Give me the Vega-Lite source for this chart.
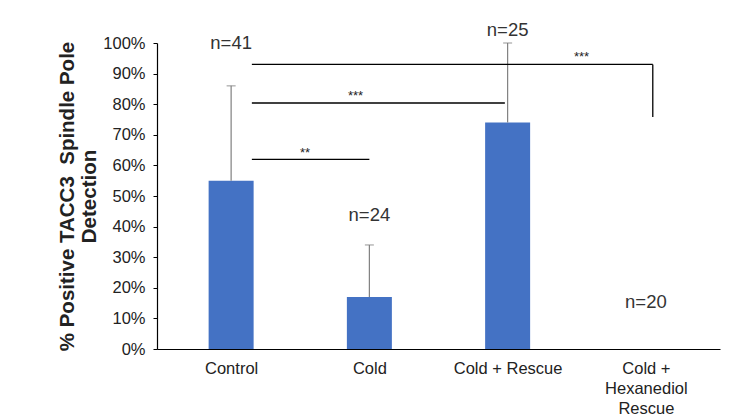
{
  "$schema": "https://vega.github.io/schema/vega-lite/v6.json",
  "autosize": "none",
  "width": 563,
  "height": 306,
  "padding": {"left": 157, "top": 43, "right": 30, "bottom": 71},
  "background": "white",
  "config": {
    "view": {"stroke": null},
    "font": "Liberation Sans",
    "axis": {
      "grid": false,
      "labelOverlap": false,
      "domainColor": "#000000",
      "domainWidth": 1.2,
      "tickColor": "#000000",
      "labelFont": "Liberation Sans",
      "labelColor": "#222222"
    },
    "axisX": {"labelFontSize": 16.5, "labelLineHeight": 20},
    "axisY": {"labelFontSize": 16.5, "titleFont": "Liberation Sans", "titleFontSize": 20.5, "titleFontWeight": "bold", "titleColor": "#222222", "titleLineHeight": 22, "titlePadding": 3}
  },
  "datasets": {
    "bars": [
      {"group": "Control", "idx": 0, "value": 0.55, "upper": 0.86, "n": "n=41", "ny": 1.0},
      {"group": "Cold", "idx": 1, "value": 0.17, "upper": 0.34, "n": "n=24", "ny": 0.438},
      {"group": "Cold + Rescue", "idx": 2, "value": 0.74, "upper": 1.0, "n": "n=25", "ny": 1.042},
      {"group": "Cold + Hexanediol Rescue", "idx": 3, "value": 0.0, "upper": null, "n": "n=20", "ny": 0.154}
    ],
    "sig": [
      {"x1": 0.15, "x2": 1.0, "y1": 0.62, "y2": 0.62},
      {"x1": 0.15, "x2": 1.98, "y1": 0.804, "y2": 0.804},
      {"x1": 0.15, "x2": 3.05, "y1": 0.93, "y2": 0.93},
      {"x1": 3.05, "x2": 3.05, "y1": 0.93, "y2": 0.758}
    ],
    "stars": [
      {"x": 0.535, "y": 0.64, "label": "**"},
      {"x": 0.9, "y": 0.827, "label": "***"},
      {"x": 2.535, "y": 0.954, "label": "***"}
    ]
  },
  "encoding": {
    "x": {
      "field": "idx", "type": "quantitative",
      "scale": {"domain": [-0.5, 3.5], "nice": false, "zero": false},
      "axis": {
        "values": [0, 1, 2, 3],
        "title": null,
        "ticks": false,
        "labelPadding": 11,
        "labelBaseline": "top",
        "labelExpr": "datum.value == 0 ? 'Control' : datum.value == 1 ? 'Cold' : datum.value == 2 ? 'Cold + Rescue' : ['Cold +', 'Hexanediol', 'Rescue']"
      }
    },
    "y": {
      "field": "value", "type": "quantitative",
      "scale": {"domain": [0, 1], "nice": false},
      "axis": {
        "values": [0, 0.1, 0.2, 0.3, 0.4, 0.5, 0.6, 0.7, 0.8, 0.9, 1.0],
        "format": ".0%",
        "tickSize": 4,
        "labelPadding": 8,
        "title": ["% Positive TACC3\u00a0 Spindle Pole", "Detection"]
      }
    }
  },
  "layer": [
    {
      "data": {"name": "bars"},
      "mark": {"type": "bar", "size": 45, "color": "#4472C4"}
    },
    {
      "data": {"name": "bars"},
      "transform": [{"filter": "datum.upper != null"}],
      "mark": {"type": "rule", "color": "#808080", "strokeWidth": 1.2},
      "encoding": {
        "y2": {"field": "upper"}
      }
    },
    {
      "data": {"name": "bars"},
      "transform": [{"filter": "datum.upper != null"}],
      "mark": {"type": "tick", "orient": "horizontal", "color": "#808080", "size": 9, "thickness": 1.2},
      "encoding": {
        "y": {"field": "upper", "type": "quantitative", "axis": {"values": [0, 0.1, 0.2, 0.3, 0.4, 0.5, 0.6, 0.7, 0.8, 0.9, 1.0], "format": ".0%", "tickSize": 4, "labelPadding": 8, "title": ["% Positive TACC3\u00a0 Spindle Pole", "Detection"]}}
      }
    },
    {
      "data": {"name": "bars"},
      "mark": {"type": "text", "fontSize": 18.5, "color": "#333333", "baseline": "middle", "clip": false},
      "encoding": {
        "y": {"field": "ny", "type": "quantitative", "axis": {"values": [0, 0.1, 0.2, 0.3, 0.4, 0.5, 0.6, 0.7, 0.8, 0.9, 1.0], "format": ".0%", "tickSize": 4, "labelPadding": 8, "title": ["% Positive TACC3\u00a0 Spindle Pole", "Detection"]}},
        "text": {"field": "n"}
      }
    },
    {
      "data": {"name": "sig"},
      "mark": {"type": "rule", "color": "#000000", "strokeWidth": 1.3},
      "encoding": {
        "x": {"field": "x1", "type": "quantitative", "axis": {"values": [0, 1, 2, 3], "title": null, "ticks": false, "labelPadding": 11, "labelBaseline": "top", "labelExpr": "datum.value == 0 ? 'Control' : datum.value == 1 ? 'Cold' : datum.value == 2 ? 'Cold + Rescue' : ['Cold +', 'Hexanediol', 'Rescue']"}},
        "x2": {"field": "x2"},
        "y": {"field": "y1", "type": "quantitative", "axis": {"values": [0, 0.1, 0.2, 0.3, 0.4, 0.5, 0.6, 0.7, 0.8, 0.9, 1.0], "format": ".0%", "tickSize": 4, "labelPadding": 8, "title": ["% Positive TACC3\u00a0 Spindle Pole", "Detection"]}},
        "y2": {"field": "y2"}
      }
    },
    {
      "data": {"name": "stars"},
      "mark": {"type": "text", "fontSize": 13, "color": "#222222", "baseline": "middle"},
      "encoding": {
        "x": {"field": "x", "type": "quantitative", "axis": {"values": [0, 1, 2, 3], "title": null, "ticks": false, "labelPadding": 11, "labelBaseline": "top", "labelExpr": "datum.value == 0 ? 'Control' : datum.value == 1 ? 'Cold' : datum.value == 2 ? 'Cold + Rescue' : ['Cold +', 'Hexanediol', 'Rescue']"}},
        "y": {"field": "y", "type": "quantitative", "axis": {"values": [0, 0.1, 0.2, 0.3, 0.4, 0.5, 0.6, 0.7, 0.8, 0.9, 1.0], "format": ".0%", "tickSize": 4, "labelPadding": 8, "title": ["% Positive TACC3\u00a0 Spindle Pole", "Detection"]}},
        "text": {"field": "label"}
      }
    }
  ]
}
